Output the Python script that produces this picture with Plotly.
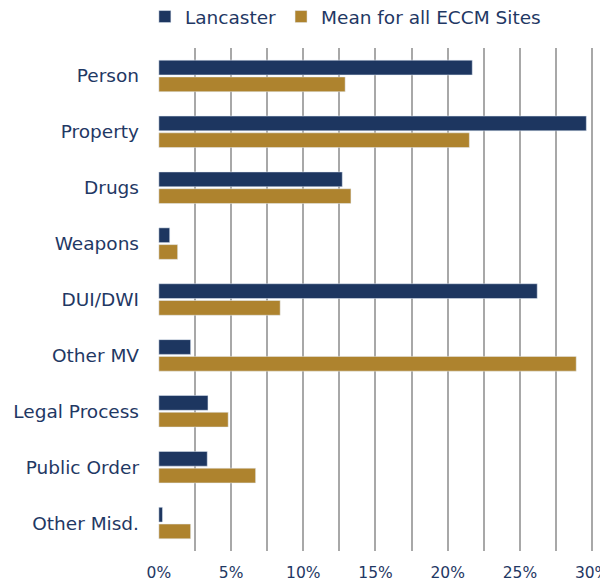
import plotly.graph_objects as go

# Offense categories (top to bottom) and shares in percent
categories = ['Person', 'Property', 'Drugs', 'Weapons', 'DUI/DWI',
              'Other MV', 'Legal Process', 'Public Order', 'Other Misd.']
lancaster = [21.7, 29.6, 12.7, 0.75, 26.2, 2.2, 3.4, 3.35, 0.25]
eccm_mean = [12.9, 21.5, 13.3, 1.3, 8.4, 28.9, 4.8, 6.7, 2.2]
grid_vals = [0, 2.5, 5, 7.5, 10, 12.5, 15, 17.5, 20, 22.5, 25, 27.5, 30]
grid_text = ['0%', '', '5%', '', '10%', '', '15%', '', '20%', '', '25%', '', '30%']

navy = '#1D3660'
gold = '#AE832E'
text_color = '#1F3864'

fig = go.Figure()
fig.add_trace(go.Bar(y=categories, x=lancaster, orientation='h', name='Lancaster',
                     marker=dict(color=navy)))
fig.add_trace(go.Bar(y=categories, x=eccm_mean, orientation='h', name='Mean for all ECCM Sites',
                     marker=dict(color=gold)))

# page body adds an 8px offset, so the figure is 600x576
fig.update_layout(
    width=600, height=576,
    barmode='group', bargap=0.4, bargroupgap=0.12,
    plot_bgcolor='white', paper_bgcolor='white',
    font=dict(family='DejaVu Sans', color=text_color, size=18),
    margin=dict(l=150, r=13, t=40, b=33, autoexpand=False),
    legend=dict(orientation='h', x=-0.03, xanchor='left', y=1.0616, yanchor='middle',
                xref='paper', yref='paper',
                font=dict(size=18.5), itemwidth=30, traceorder='normal'),
    showlegend=True,
)
fig.update_xaxes(range=[-0.06, 30.2], tickvals=grid_vals, ticktext=grid_text,
                 showgrid=True, gridcolor='#A8A8A8', gridwidth=1.5,
                 zeroline=False, showline=False, ticks='outside', ticklen=0,
                 automargin=False, ticklabeloverflow='allow', ticklabelstandoff=7,
                 tickfont=dict(size=15.5))
fig.update_yaxes(autorange='reversed', showgrid=False, zeroline=False,
                 automargin=False, ticklabelstandoff=18, tickfont=dict(size=18.5))

fig.write_html('out.html')
